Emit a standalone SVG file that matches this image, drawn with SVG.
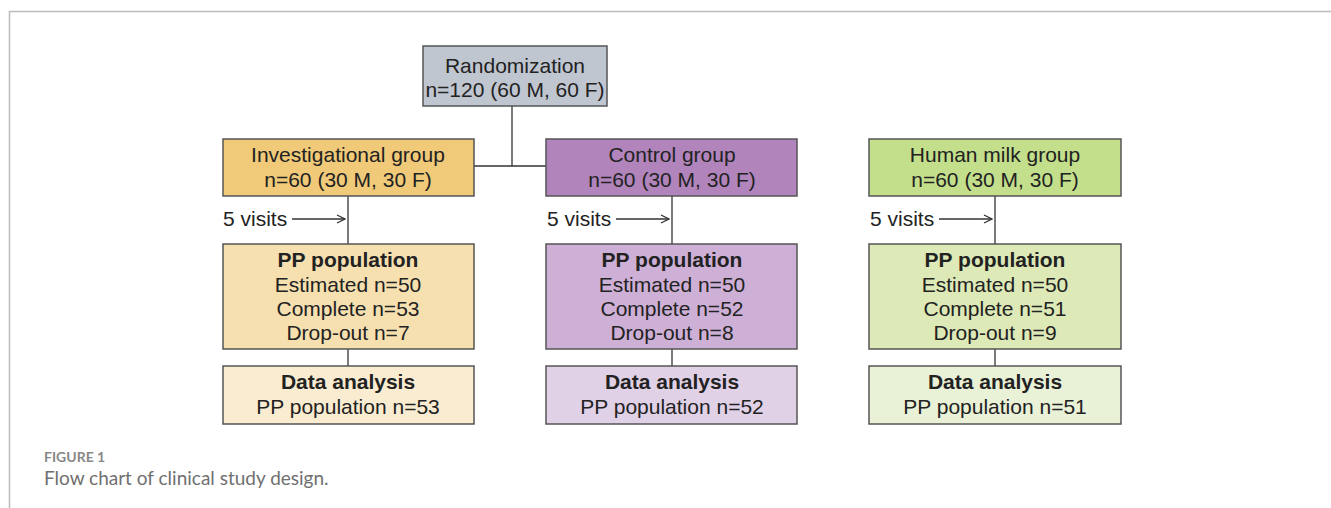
<svg xmlns="http://www.w3.org/2000/svg" width="1331" height="508" viewBox="0 0 1331 508">
<style>
.box{stroke:#555;stroke-width:1.5}
.t{font-family:"Liberation Sans",Arial,sans-serif;font-size:21px;fill:#222;text-anchor:middle}
.b{font-weight:bold}
.l{font-family:"Liberation Sans",Arial,sans-serif;font-size:21px;fill:#222}
.c{stroke:#333;stroke-width:1.3;fill:none}
.cap1{font-family:Lato,"Open Sans",sans-serif;font-size:14px;font-weight:bold;fill:#888}
.cap2{font-family:Lato,"Open Sans",sans-serif;font-size:19px;fill:#707070}
</style>
<defs>
<marker id="ah" viewBox="0 0 10 10" refX="9" refY="5" markerWidth="10" markerHeight="10" markerUnits="userSpaceOnUse" orient="auto">
<path d="M1,1 L9,5 L1,9" fill="none" stroke="#333" stroke-width="1.3"/>
</marker>
</defs>
<rect width="1331" height="508" fill="#fff"/>
<path d="M9.5,508 V11.5 H1331" fill="none" stroke="#bbb" stroke-width="1.5"/>
<g id="connectors">
<path class="c" d="M512,106 V166"/>
<path class="c" d="M474,166 H546"/>
<path class="c" d="M348,196 V244"/>
<path class="c" d="M348,349 V366"/>
<path class="c" d="M672,196 V244"/>
<path class="c" d="M672,349 V366"/>
<path class="c" d="M995,196 V244"/>
<path class="c" d="M995,349 V366"/>
<path class="c" d="M292,219 H345" marker-end="url(#ah)"/>
<path class="c" d="M616,219 H669" marker-end="url(#ah)"/>
<path class="c" d="M939,219 H992" marker-end="url(#ah)"/>
<text class="l" x="223" y="226">5 visits</text>
<text class="l" x="547" y="226">5 visits</text>
<text class="l" x="870" y="226">5 visits</text>
</g>
<g id="randomization">
<rect class="box" x="423" y="46" width="184" height="60" fill="#c0c6d0"/>
<text class="t" x="515" y="73">Randomization</text>
<text class="t" x="515" y="97">n=120 (60 M, 60 F)</text>
</g>
<g id="investigational">
<rect class="box" x="223" y="139" width="251" height="57" fill="#f0ca79"/>
<text class="t" x="348" y="162">Investigational group</text>
<text class="t" x="348" y="187">n=60 (30 M, 30 F)</text>
</g>
<g id="control">
<rect class="box" x="546" y="139" width="251" height="57" fill="#b284bc"/>
<text class="t" x="672" y="162">Control group</text>
<text class="t" x="672" y="187">n=60 (30 M, 30 F)</text>
</g>
<g id="humanmilk">
<rect class="box" x="869" y="139" width="252" height="57" fill="#c3df8b"/>
<text class="t" x="995" y="162">Human milk group</text>
<text class="t" x="995" y="187">n=60 (30 M, 30 F)</text>
</g>
<g id="pp-investigational">
<rect class="box" x="223" y="244" width="251" height="105" fill="#f6e0b0"/>
<text class="t b" x="348" y="267">PP population</text>
<text class="t" x="348" y="292">Estimated n=50</text>
<text class="t" x="348" y="316">Complete n=53</text>
<text class="t" x="348" y="340">Drop-out n=7</text>
</g>
<g id="pp-control">
<rect class="box" x="546" y="244" width="251" height="105" fill="#ceb0d6"/>
<text class="t b" x="672" y="267">PP population</text>
<text class="t" x="672" y="292">Estimated n=50</text>
<text class="t" x="672" y="316">Complete n=52</text>
<text class="t" x="672" y="340">Drop-out n=8</text>
</g>
<g id="pp-humanmilk">
<rect class="box" x="869" y="244" width="252" height="105" fill="#dde9b6"/>
<text class="t b" x="995" y="267">PP population</text>
<text class="t" x="995" y="292">Estimated n=50</text>
<text class="t" x="995" y="316">Complete n=51</text>
<text class="t" x="995" y="340">Drop-out n=9</text>
</g>
<g id="da-investigational">
<rect class="box" x="223" y="366" width="251" height="58" fill="#faecd0"/>
<text class="t b" x="348" y="389">Data analysis</text>
<text class="t" x="348" y="414">PP population n=53</text>
</g>
<g id="da-control">
<rect class="box" x="546" y="366" width="251" height="58" fill="#e1d1e7"/>
<text class="t b" x="672" y="389">Data analysis</text>
<text class="t" x="672" y="414">PP population n=52</text>
</g>
<g id="da-humanmilk">
<rect class="box" x="869" y="366" width="252" height="58" fill="#e9f1d6"/>
<text class="t b" x="995" y="389">Data analysis</text>
<text class="t" x="995" y="414">PP population n=51</text>
</g>
<text class="cap1" x="44" y="462">FIGURE 1</text>
<text class="cap2" x="44" y="485">Flow chart of clinical study design.</text>
</svg>
